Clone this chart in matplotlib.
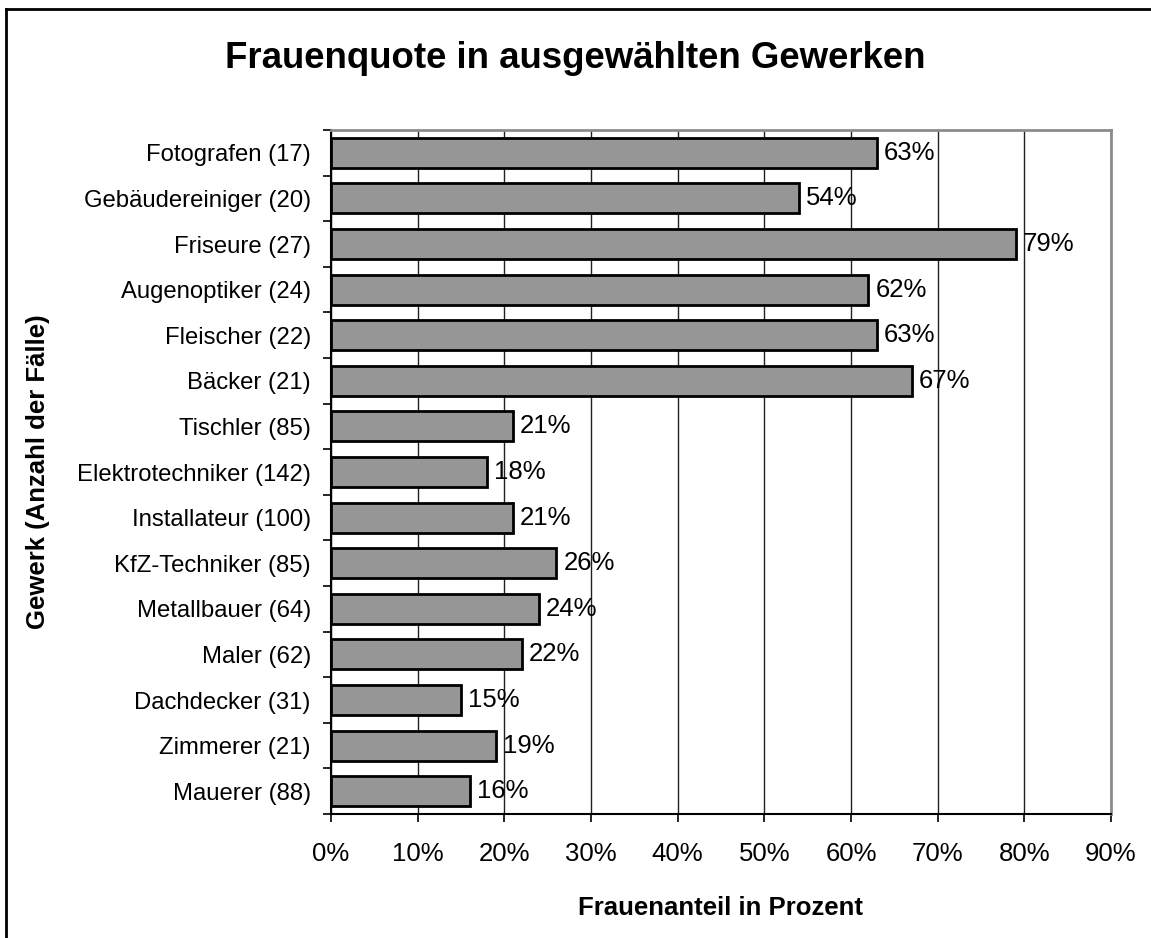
import numpy as np
import matplotlib.pyplot as plt
from matplotlib.lines import Line2D

plt.rcParams['font.family'] = ['Liberation Sans', 'DejaVu Sans']

gewerke = ['Fotografen (17)', 'Gebäudereiniger (20)', 'Friseure (27)', 'Augenoptiker (24)',
           'Fleischer (22)', 'Bäcker (21)', 'Tischler (85)', 'Elektrotechniker (142)',
           'Installateur (100)', 'KfZ-Techniker (85)', 'Metallbauer (64)', 'Maler (62)',
           'Dachdecker (31)', 'Zimmerer (21)', 'Mauerer (88)']
anteil = [63, 54, 79, 62, 63, 67, 21, 18, 21, 26, 24, 22, 15, 19, 16]
xticks = [0, 10, 20, 30, 40, 50, 60, 70, 80, 90]

W, H = 1151, 938
fig = plt.figure(figsize=(W / 100, H / 100), dpi=100)
ax = fig.add_axes([331 / W, 1 - 814 / H, (1111 - 331) / W, (814 - 130) / H])

n = len(gewerke)
pos = np.arange(n)[::-1]
ax.barh(pos, anteil, height=0.66, color='#969696', edgecolor='black', linewidth=2, zorder=3)
for p, v in zip(pos, anteil):
    ax.text(v + 0.8, p, f'{v}%', va='center', ha='left', fontsize=18.5, zorder=4)

ax.set_xlim(0, 90)
ax.set_ylim(-0.5, n - 0.5)
ax.set_xticks(xticks)
ax.set_xticklabels([f'{t}%' for t in xticks], fontsize=18.5)
ax.set_yticks(pos)
ax.set_yticklabels(gewerke, fontsize=17.2)
ax.set_yticks(np.arange(n + 1) - 0.5, minor=True)
ax.tick_params(axis='y', which='major', length=0, pad=14.5)
ax.tick_params(axis='y', which='minor', length=6, width=1.2, direction='out')
ax.tick_params(axis='x', length=6, width=1.2, direction='out', pad=14)
ax.xaxis.grid(True, color='#202020', linewidth=1, zorder=0)

ax.spines['left'].set_linewidth(1.5)
ax.spines['bottom'].set_linewidth(1.5)
for s in ['top', 'right']:
    ax.spines[s].set_color('#8c8c8c')
    ax.spines[s].set_linewidth(2)

ax.set_xlabel('Frauenanteil in Prozent', fontsize=18.5, fontweight='bold', labelpad=22)
fig.text(38 / W, 1 - 472 / H, 'Gewerk (Anzahl der Fälle)', rotation=90, ha='center', va='center',
         fontsize=18.5, fontweight='bold')
fig.text(0.5, 1 - 59 / H, 'Frauenquote in ausgewählten Gewerken', ha='center', va='center',
         fontsize=26.4, fontweight='bold')

# frame of the chart area: only its left and top edges are visible
fig.add_artist(Line2D([6 / W, 6 / W], [0, 1 - 9.5 / H], transform=fig.transFigure, color='black', linewidth=2))
fig.add_artist(Line2D([6 / W, 1], [1 - 9.5 / H, 1 - 9.5 / H], transform=fig.transFigure, color='black', linewidth=2))

fig.savefig('out.png', dpi=100)
